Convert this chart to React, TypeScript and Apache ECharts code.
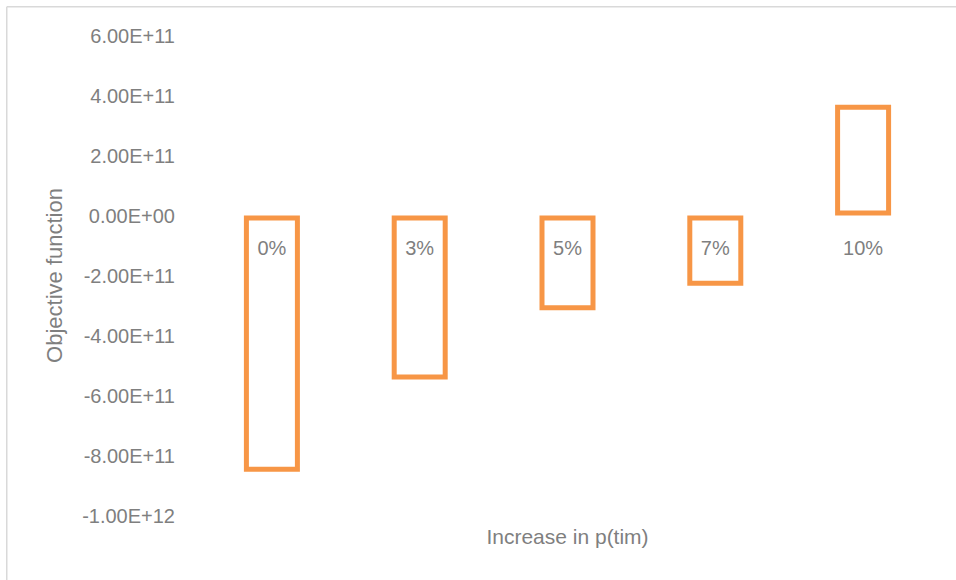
import React, { useEffect, useRef } from "react";
import * as echarts from "echarts";

const categories = ["0%", "3%", "5%", "7%", "10%"];
const values = [-8.54e11, -5.47e11, -3.16e11, -2.34e11, 3.69e11];
const yMin = -1e12;
const yMax = 6e11;
const yInterval = 2e11;
const xTitle = "Increase in p(tim)";
const yTitle = "Objective function";

const TEXT = "#7F7F7F";
const ORANGE = "#F79646";
const SANS = "'Liberation Sans', Arial, sans-serif";

function fmt(v: number): string {
  const s = v.toExponential(2).toUpperCase();
  const m = s.match(/^(-?[\d.]+)E([+-])(\d+)$/);
  if (!m) return s;
  const exp = m[3].length < 2 ? "0" + m[3] : m[3];
  return `${m[1]}E${m[2]}${exp}`;
}

export default function App() {
  const ref = useRef<HTMLDivElement>(null);
  useEffect(() => {
    if (!ref.current) return;
    const chart = echarts.init(ref.current, undefined, {
      renderer: "svg",
      width: 956,
      height: 580,
    });
    chart.setOption({
      animation: false,
      backgroundColor: "#ffffff",
      grid: {
        left: 198,
        right: 19,
        top: 35.5,
        bottom: 64.5,
        containLabel: false,
        outerBoundsMode: "none",
      },
      graphic: [
        {
          type: "line",
          shape: { x1: 6.75, y1: 6.75, x2: 956, y2: 6.75 },
          style: { stroke: "#D9D9D9", lineWidth: 1.5 },
        },
        {
          type: "line",
          shape: { x1: 6.75, y1: 6.75, x2: 6.75, y2: 580 },
          style: { stroke: "#D9D9D9", lineWidth: 1.5 },
        },
      ],
      xAxis: {
        type: "category",
        data: categories,
        axisLine: { show: false, onZero: false },
        axisTick: { show: false },
        splitLine: { show: false },
        axisLabel: {
          color: TEXT,
          fontFamily: SANS,
          fontSize: 20,
          margin: -278,
        },
        name: xTitle,
        nameLocation: "middle",
        nameGap: 10,
        nameTextStyle: { color: TEXT, fontFamily: SANS, fontSize: 21 },
      },
      yAxis: {
        type: "value",
        min: yMin,
        max: yMax,
        interval: yInterval,
        axisLine: { show: false },
        axisTick: { show: false },
        splitLine: { show: false },
        axisLabel: {
          color: TEXT,
          fontFamily: SANS,
          fontSize: 20,
          margin: 23,
          formatter: (v: number) => fmt(v),
        },
        name: yTitle,
        nameLocation: "middle",
        nameGap: 133,
        nameRotate: 90,
        nameTextStyle: { color: TEXT, fontFamily: SANS, fontSize: 22 },
      },
      series: [
        {
          type: "bar",
          data: values,
          barWidth: 56,
          itemStyle: {
            color: "rgba(0,0,0,0)",
            borderColor: ORANGE,
            borderWidth: 5,
          },
        },
      ],
    });
    return () => chart.dispose();
  }, []);
  return (
    <div
      ref={ref}
      style={{ position: "absolute", left: 0, top: 0, width: 956, height: 580 }}
    />
  );
}
